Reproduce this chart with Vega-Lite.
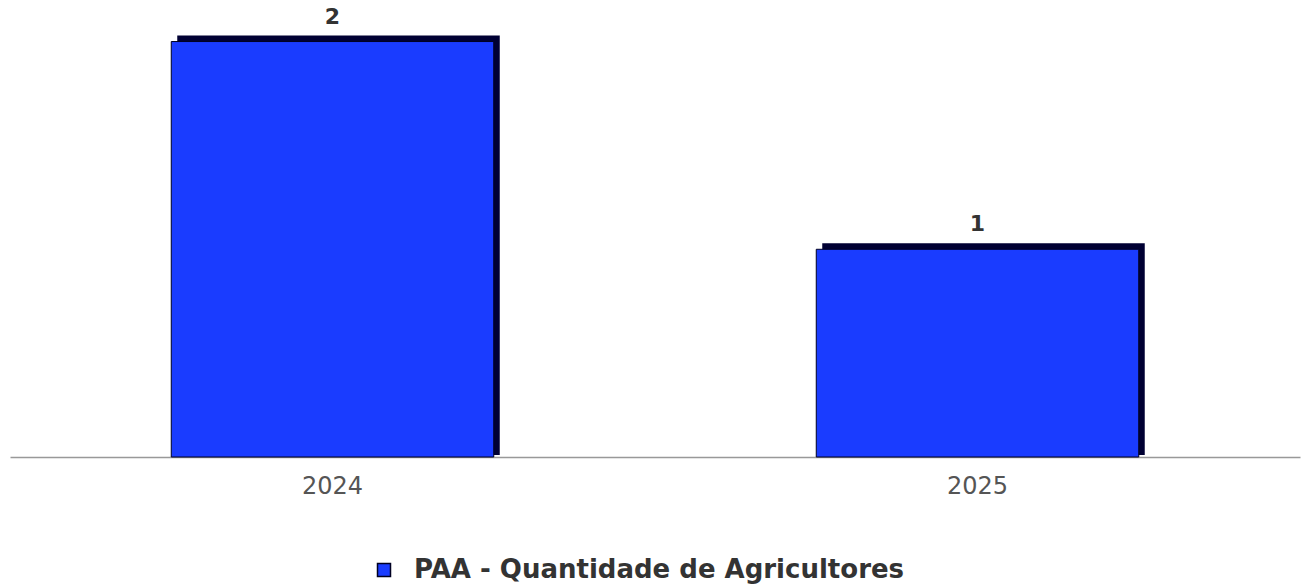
{
  "$schema": "https://vega.github.io/schema/vega-lite/v6.json",
  "autosize": "none",
  "width": 1290,
  "height": 457,
  "padding": {"left": 10, "top": 0, "right": 3, "bottom": 128},
  "background": "white",
  "config": {"view": {"stroke": null}, "font": "DejaVu Sans"},
  "data": {"values": [
    {"ano": "2024", "valor": 2, "serie": "PAA - Quantidade de Agricultores"},
    {"ano": "2025", "valor": 1, "serie": "PAA - Quantidade de Agricultores"}
  ]},
  "encoding": {
    "x": {"field": "ano", "type": "nominal",
      "scale": {"paddingInner": 0.5, "paddingOuter": 0.25},
      "axis": {"title": null, "labelAngle": 0, "ticks": false, "domainColor": "#999999", "domainWidth": 1.5,
        "labelFontSize": 24, "labelColor": "#555555", "labelPadding": 17, "labelFont": "DejaVu Sans"}},
    "y": {"field": "valor", "type": "quantitative",
      "scale": {"domain": [0, 2.2]},
      "axis": null}
  },
  "layer": [
    {"mark": {"type": "bar", "color": "#000033", "xOffset": 6, "yOffset": -6, "y2Offset": -2},
      "encoding": {"y2": {"datum": 0}}},
    {"mark": {"type": "bar", "stroke": "#000022", "strokeWidth": 1},
      "encoding": {"color": {"field": "serie", "type": "nominal",
        "scale": {"range": ["#1a3cff"]},
        "legend": {"title": null, "orient": "none", "legendX": 361, "legendY": 557, "direction": "horizontal",
          "symbolType": "square", "symbolSize": 169, "symbolStrokeColor": "#000022", "symbolStrokeWidth": 1.5,
          "labelFontSize": 26, "labelFontWeight": "bold", "labelColor": "#333333", "labelFont": "DejaVu Sans",
          "labelLimit": 800, "labelOffset": 17}}}},
    {"mark": {"type": "text", "baseline": "alphabetic", "dy": -18, "fontSize": 22, "fontWeight": "bold", "color": "#333333", "font": "DejaVu Sans"},
      "encoding": {"text": {"field": "valor", "type": "quantitative"}}}
  ]
}
